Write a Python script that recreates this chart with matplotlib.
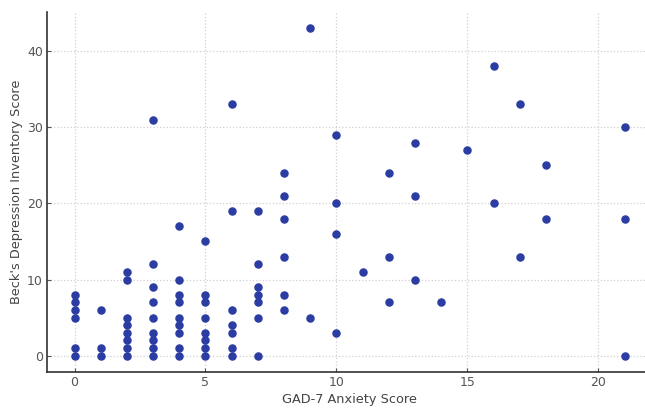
import matplotlib
matplotlib.use("Agg")
import matplotlib.pyplot as plt

# GAD-7 score and the Beck's Depression Inventory scores recorded at each
gad7 = [0, 1, 2, 3, 4, 5, 6, 7, 8, 9, 10, 11, 12, 13, 14, 15, 16, 17, 18, 21]
bdi = [
    [0, 1, 5, 6, 7, 8],
    [0, 1, 6],
    [0, 1, 2, 3, 4, 5, 10, 11],
    [0, 1, 2, 3, 5, 7, 9, 12, 31],
    [0, 1, 3, 4, 5, 7, 8, 10, 17],
    [0, 1, 2, 3, 5, 7, 8, 15],
    [0, 1, 3, 4, 6, 19, 33],
    [0, 5, 7, 8, 9, 12, 19],
    [6, 8, 13, 18, 21, 24],
    [5, 43],
    [3, 16, 20, 29],
    [11],
    [7, 13, 24],
    [10, 21, 28],
    [7],
    [27],
    [20, 38],
    [13, 33],
    [18, 25],
    [0, 18, 30],
]

x = [g for g, scores in zip(gad7, bdi) for _ in scores]
y = [s for scores in bdi for s in scores]

plt.rcParams['font.family'] = ['DejaVu Sans']

fig = plt.figure(figsize=(6.45, 4.08), dpi=100)
ax = fig.add_axes([47 / 645, 36 / 408, 605 / 645, 360 / 408])

ax.scatter(x, y, s=26, color='#2b3ca3', zorder=3)

ax.set_xlabel("GAD-7 Anxiety Score", fontsize=9.3, color='#444444', labelpad=3)
ax.set_ylabel("Beck's Depression Inventory Score", fontsize=9.3, color='#444444', labelpad=3)

ax.grid(True, linestyle=':', color='#d0d0d0', linewidth=0.9)
ax.set_axisbelow(True)
for side in ['top', 'right']:
    ax.spines[side].set_visible(False)
for side in ['left', 'bottom']:
    ax.spines[side].set_color('#333333')
    ax.spines[side].set_linewidth(1.2)
ax.tick_params(colors='#555555', labelsize=9, direction='in', length=3, pad=3)
ax.set_xticks([0, 5, 10, 15, 20])
ax.set_yticks([0, 10, 20, 30, 40])

fig.savefig("out.png", dpi=100)
